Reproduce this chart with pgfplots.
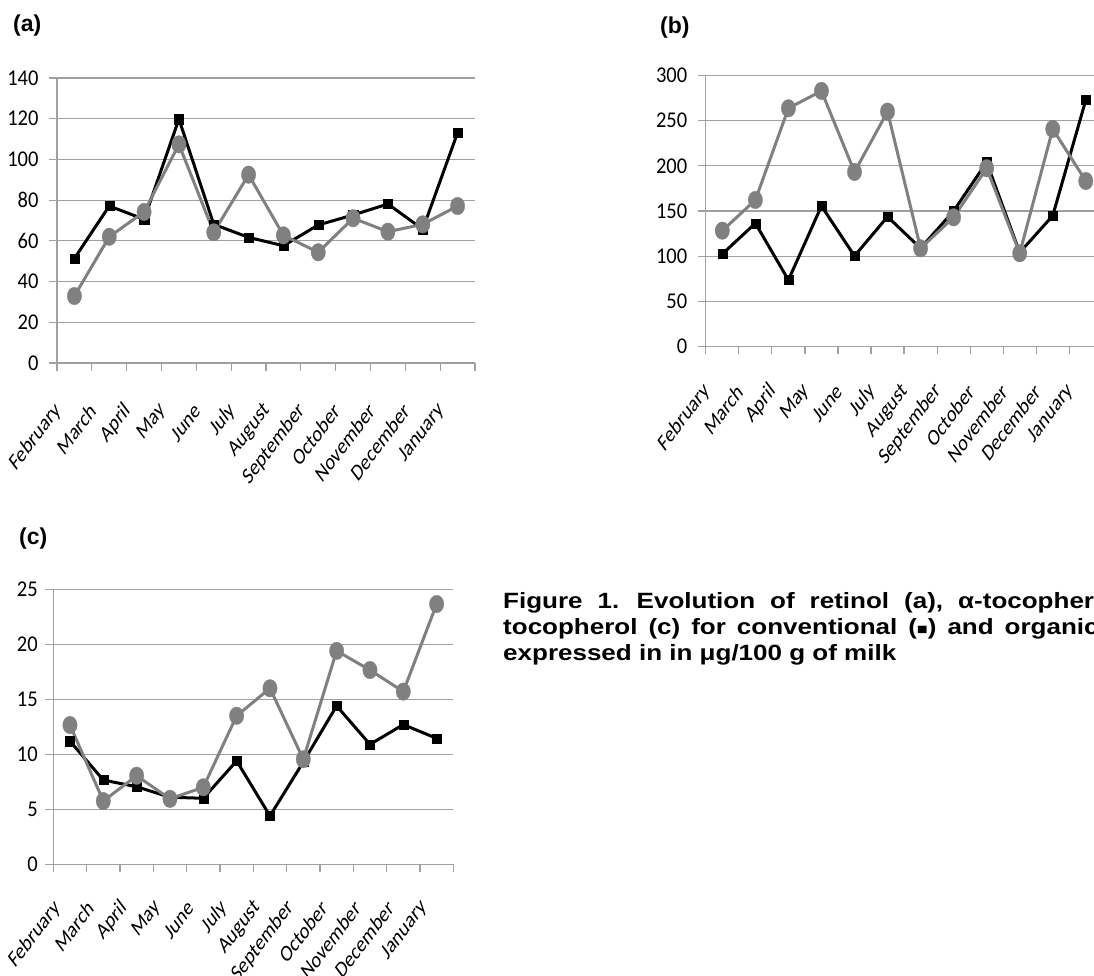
\documentclass[border=0pt]{standalone}
\usepackage{fontspec}
\setmainfont{Carlito}
\newfontfamily\arial{Liberation Sans}
\usepackage{pgfplots}
\pgfplotsset{compat=1.18}
\definecolor{gridgray}{RGB}{160,160,160}
\definecolor{orggray}{RGB}{128,128,128}
\pgfplotsset{
  panel/.style n args={3}{
    scale only axis,
    axis lines*=left,
    axis line style={draw=gridgray, line width=1.2pt},
    ymajorgrids, grid style={draw=gridgray, line width=1.2pt},
    xmin=-0.5, xmax=11.5, ymin=0,
    xtick={-0.5,0.5,1.5,2.5,3.5,4.5,5.5,6.5,7.5,8.5,9.5,10.5,11.5},
    xticklabels={February,March,April,May,June,July,August,September,October,November,December,January,{}},
    tick align=outside,
    major tick length=8pt,
    tick style={draw=gridgray, line width=1.2pt},
    /pgf/number format/assume math mode=true,
    yticklabel style={font=\fontsize{20.5}{24}\selectfont, yscale=1.1, xshift=-7pt},
    xticklabel style={font=\fontsize{17.7}{21}\selectfont, anchor=east, inner sep=0pt, xshift=#1, yshift=#2, yscale=1.32, rotate=45},
    clip=false,
  },
  conv/.style={black, line width=3pt, mark=square*, mark size=4.6pt, mark options={solid, line width=0.3pt}},
  org/.style={orggray, line width=3pt, mark=*, mark size=7.2pt, mark options={solid, line width=0.3pt, yscale=1.22}},
}
\begin{document}
\begin{tikzpicture}
\path[use as bounding box] (0pt,0pt) rectangle (1094pt,976pt);

% (a) retinol
\begin{axis}[panel={1pt}{-36pt}{}, at={(57pt,613pt)}, anchor=south west,
  width=418pt, height=285pt, ymax=140, ytick={0,20,...,140}]
\addplot[conv] coordinates {(0,51.4)(1,77.1)(2,70.6)(3,119.8)(4,68.1)(5,61.7)(6,57.6)(7,67.8)(8,72.7)(9,78.1)(10,65.7)(11,113.1)};
\addplot[org] coordinates {(0,32.9)(1,62.0)(2,74.2)(3,107.4)(4,64.2)(5,92.5)(6,62.7)(7,54.4)(8,71.1)(9,64.5)(10,68.1)(11,77.1)};
\end{axis}

% (b) alpha-tocopherol
\begin{axis}[panel={1pt}{-33pt}{}, at={(705.8pt,629.5pt)}, anchor=south west,
  width=396.5pt, height=271pt, ymax=300, ytick={0,50,...,300}]
\addplot[conv] coordinates {(0,102.4)(1,136.4)(2,73.6)(3,155.5)(4,100.2)(5,143.7)(6,108.7)(7,150)(8,204)(9,104)(10,144.8)(11,272.9)};
\addplot[org] coordinates {(0,128.2)(1,162.2)(2,263.7)(3,282.9)(4,193.2)(5,260)(6,108.7)(7,143)(8,197.3)(9,103.2)(10,240.8)(11,183.2)};
\end{axis}

% (c) gamma-tocopherol
\begin{axis}[panel={4pt}{-32pt}{}, at={(53.3pt,111.7pt)}, anchor=south west,
  width=400pt, height=275pt, ymax=25, ytick={0,5,...,25}, yticklabel style={xshift=3pt}]
\addplot[conv] coordinates {(0,11.2)(1,7.66)(2,7.05)(3,6.1)(4,6.0)(5,9.4)(6,4.4)(7,9.3)(8,14.4)(9,10.9)(10,12.7)(11,11.45)};
\addplot[org] coordinates {(0,12.66)(1,5.75)(2,8.05)(3,5.95)(4,7.0)(5,13.5)(6,16.0)(7,9.55)(8,19.4)(9,17.66)(10,15.7)(11,23.66)};
\end{axis}

\node[anchor=west, inner sep=0pt, font=\arial\bfseries\fontsize{23}{27}\selectfont] at (13pt,950pt) {(a)};
\node[anchor=west, inner sep=0pt, font=\arial\bfseries\fontsize{23}{27}\selectfont] at (660pt,948.5pt) {(b)};
\node[anchor=west, inner sep=0pt, font=\arial\bfseries\fontsize{23}{27}\selectfont] at (19pt,437pt) {(c)};

\begin{scope}
\clip (0pt,0pt) rectangle (1094pt,976pt);
\node[anchor=base west, inner sep=0pt, yscale=0.85, font=\arial\bfseries\fontsize{26}{32}\selectfont] at (503pt,367.7pt) {\spaceskip=15pt Figure 1. Evolution of retinol (a), α-tocopherol (b) and γ-};
\node[anchor=base west, inner sep=0pt, yscale=0.85, font=\arial\bfseries\fontsize{26}{32}\selectfont] at (503pt,341pt) {\spaceskip=11pt tocopherol (c) for conventional ({\fontsize{18}{20}\selectfont ■}) and organic (●) milk,};
\node[anchor=base west, inner sep=0pt, yscale=0.85, font=\arial\bfseries\fontsize{26}{32}\selectfont] at (503pt,315.3pt) {expressed in in μg/100 g of milk};
\end{scope}
\end{tikzpicture}
\end{document}
